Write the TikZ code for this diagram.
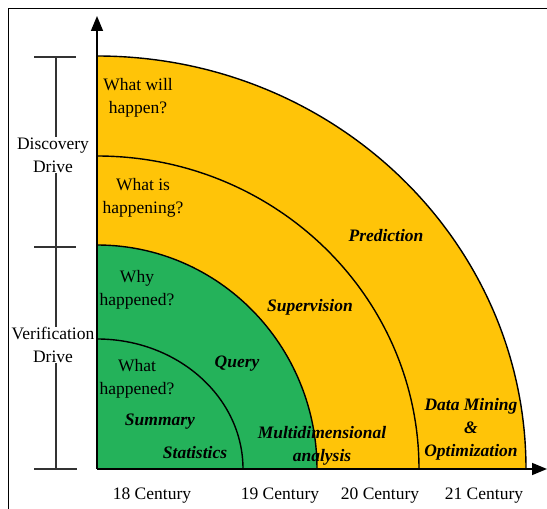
\documentclass[tikz,border=0pt]{standalone}
\usepackage{fontspec}
\setmainfont{Liberation Serif}
\usetikzlibrary{arrows.meta}
\definecolor{gold}{RGB}{255,196,8}
\definecolor{leaf}{RGB}{36,178,90}
\tikzset{
  lbl/.style={align=center,inner sep=0pt,font=\fontsize{17.5}{23}\selectfont},
  key/.style={lbl,font=\fontsize{17.5}{23}\selectfont\bfseries\itshape},
  arcline/.style={line width=1.4pt},
  axis/.style={line width=1.6pt,-{Triangle[length=15pt,width=12pt]}},
  brk/.style={line width=1.4pt,black!80},
}
\begin{document}
\begin{tikzpicture}[x=1pt,y=1pt]
\useasboundingbox (0,0) rectangle (547,509);
\fill[white] (0,0) rectangle (547,509);
% frame
\draw[line width=1pt] (8,0) -- (8,500) -- (547,500);
\coordinate (O) at (97,40);
% fills
\fill[gold] (O) -- (526,40) arc[start angle=0,end angle=90,x radius=429,y radius=413] -- cycle;
\fill[leaf] (O) -- (317,40) arc[start angle=0,end angle=90,x radius=220,y radius=224] -- cycle;
% arcs
\draw[arcline] (526,40) arc[start angle=0,end angle=90,x radius=429,y radius=413];
\draw[arcline] (419,40) arc[start angle=0,end angle=90,x radius=322,y radius=313];
\draw[arcline] (317,40) arc[start angle=0,end angle=90,x radius=220,y radius=224];
\draw[arcline] (243,40) arc[start angle=0,end angle=90,x radius=146,y radius=130];
% axes
\coordinate (ytip) at (97,493);
\coordinate (xtip) at (547,40);
\draw[axis] (O) -- (ytip);
\draw[axis] (O) -- (xtip);
% bracket
\coordinate (t1l) at (34,452); \coordinate (t1r) at (76,452); \coordinate (t1) at (56,452);
\coordinate (t2l) at (34,262); \coordinate (t2r) at (76,262); \coordinate (t2) at (56,262);
\coordinate (t3l) at (34,40);  \coordinate (t3r) at (77,40);  \coordinate (t3) at (56,40);
\node[lbl] (disc) at (53,354) {Discovery\\Drive};
\node[lbl] (veri) at (53,164) {Verification\\Drive};
\draw[brk] (t1l) -- (t1r);
\draw[brk] (t2l) -- (t2r);
\draw[brk] (t3l) -- (t3r);
\draw[brk] (t1) -- (t1 |- disc.north);
\draw[brk] (t2) -- (t2 |- disc.south);
\draw[brk] (t2) -- (t2 |- veri.north);
\draw[brk] (t3) -- (t3 |- veri.south);
% questions
\node[lbl] (q1) at (138,411) {What will\\happen?};
\node[lbl] (q2) at (143,311) {What is\\happening?};
\node[lbl] (q3) at (137,219) {Why\\happened?};
\node[lbl] (q4) at (137,130) {What\\happened?};
% keywords
\node[key] (sum) at (160,87) {Summary};
\node[key] (stat) at (195,56) {Statistics};
\node[key] (query) at (237,145) {Query};
\node[key] (multi) at (322,63) {Multidimensional\\analysis};
\node[key] (sup) at (310,202) {Supervision};
\node[key] (pred) at (386,273) {Prediction};
\node[key] (dm) at (471,80) {Data Mining\\\&\\Optimization};
% centuries
\node[lbl] (c18) at (152,13) {18 Century};
\node[lbl] (c19) at (280,13) {19 Century};
\node[lbl] (c20) at (380,13) {20 Century};
\node[lbl] (c21) at (484,13) {21 Century};
\end{tikzpicture}
\end{document}
